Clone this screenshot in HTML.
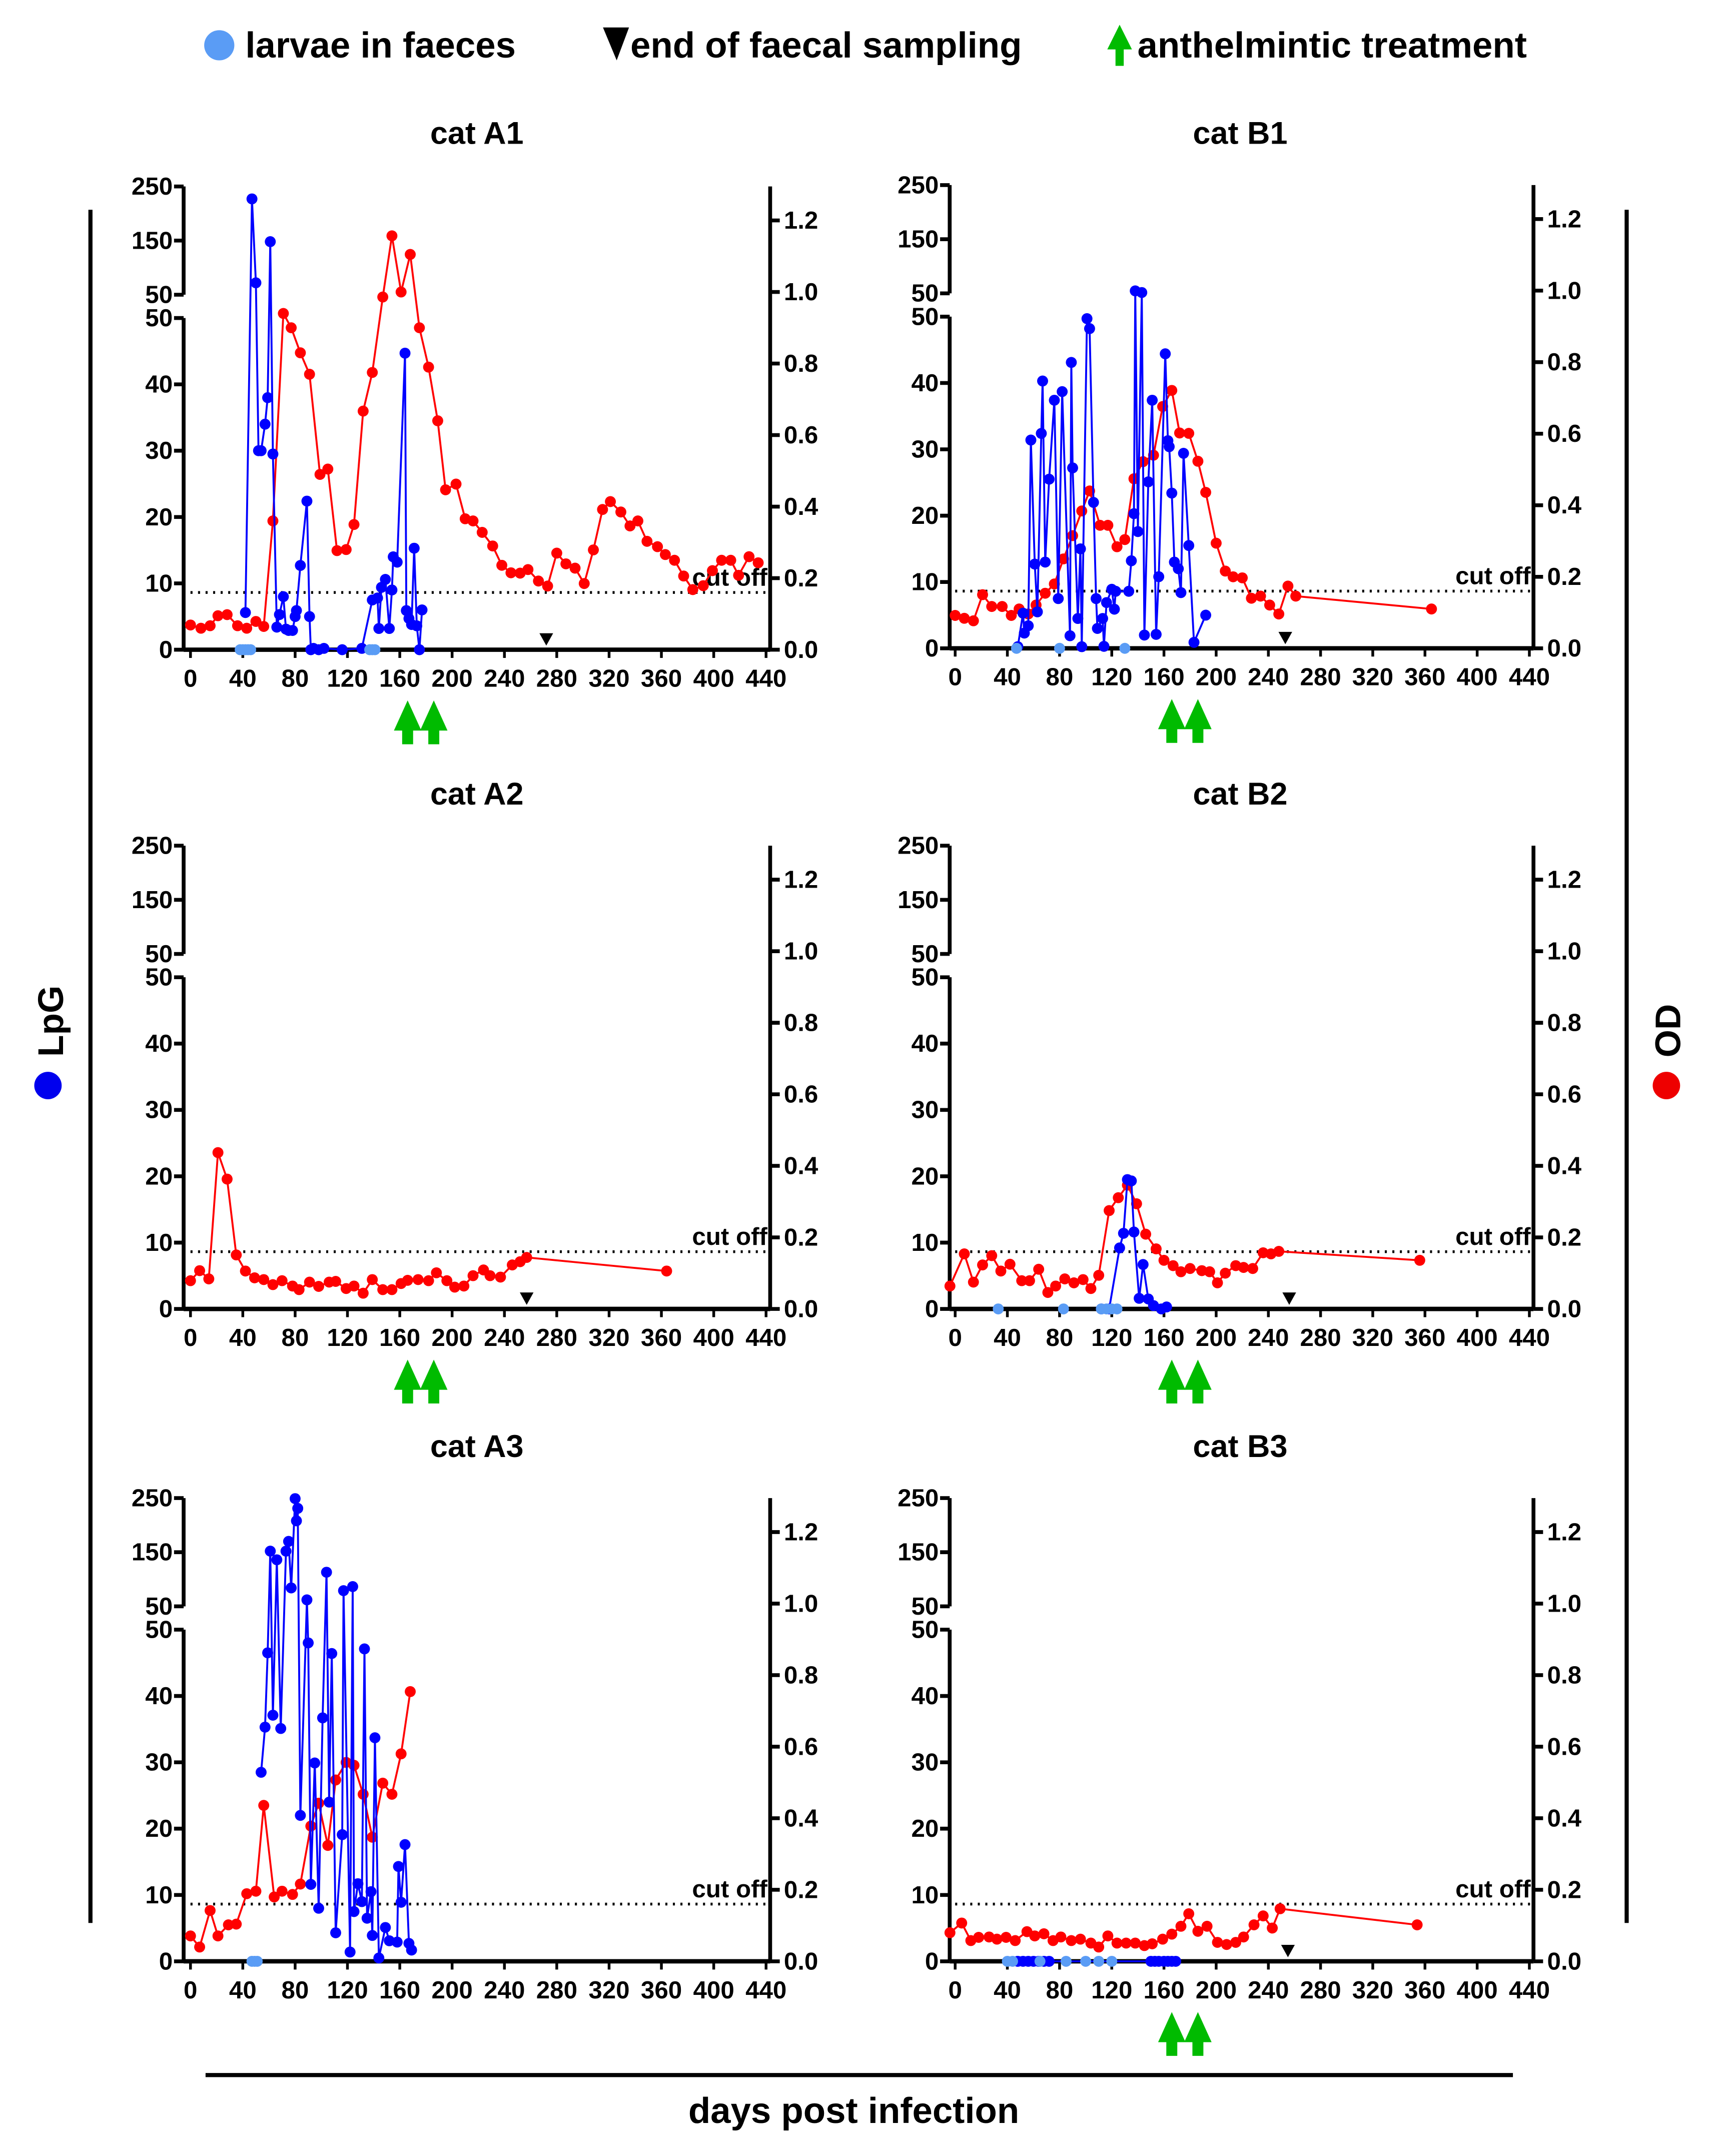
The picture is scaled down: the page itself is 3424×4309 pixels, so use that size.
<!DOCTYPE html>
<html><head><meta charset="utf-8">
<style>
html,body{margin:0;padding:0;background:#fff;}
svg{display:block;}
text{font-family:"Liberation Sans",Arial,sans-serif;font-weight:bold;fill:#000;}
</style></head>
<body>
<svg id="chart" width="3424" height="4309" viewBox="0 0 1250 1573" xmlns="http://www.w3.org/2000/svg">
  <g>
    <circle cx="160" cy="33" r="11" fill="#5a9cf5"/>
    <text x="179" y="42" font-size="26.5">larvae in faeces</text>
    <polygon points="440,20 459,20 450,44" fill="#000"/>
    <text x="460" y="42" font-size="26.5">end of faecal sampling</text>
    <polygon points="817,18 808,36 814,36 814,48 820,48 820,36 826,36" fill="#0b0"/>
    <text x="830" y="42" font-size="26.5">anthelmintic treatment</text>
  </g>
  <line x1="66" y1="153" x2="66" y2="1403" stroke="#000" stroke-width="3"/>
  <line x1="1187" y1="153" x2="1187" y2="1403" stroke="#000" stroke-width="3"/>
  <line x1="150" y1="1514" x2="1104" y2="1514" stroke="#000" stroke-width="3"/>
  <text transform="translate(46,745) rotate(-90)" text-anchor="middle" font-size="26">LpG</text>
  <circle cx="35" cy="792" r="10" fill="#0000ee"/>
  <text transform="translate(1226,752) rotate(-90)" text-anchor="middle" font-size="26">OD</text>
  <circle cx="1216" cy="792" r="10" fill="#ee0000"/>
  <text x="623" y="1549" text-anchor="middle" font-size="26.5">days post infection</text>
  <g id="panels"></g>
</svg>
<script>
const xTicks=[0,40,80,120,160,200,240,280,320,360,400,440];
const lpgLowTicks=[0,10,20,30,40,50];
const lpgHighTicks=[50,150,250];
const odTicks=[0.0,0.2,0.4,0.6,0.8,1.0,1.2];
const cutoffOD=0.16;
const treatmentDays=[166,186];

const A1_od=[[0,0.069],[8,0.06],[15,0.067],[21,0.095],[28,0.098],[36,0.067],[43,0.06],[50,0.079],[56,0.065],[63,0.36],[71,0.94],[77,0.9],[84,0.83],[91,0.77],[99,0.49],[105,0.505],[112,0.277],[119,0.28],[125,0.35],[132,0.667],[139,0.775],[147,0.986],[154,1.157],[161,1.0],[168,1.105],[175,0.9],[182,0.79],[189,0.64],[195,0.447],[203,0.463],[210,0.366],[216,0.36],[223,0.328],[231,0.29],[238,0.236],[245,0.215],[252,0.214],[258,0.224],[266,0.192],[273,0.178],[280,0.27],[287,0.24],[294,0.228],[301,0.185],[308,0.279],[315,0.392],[321,0.414],[329,0.385],[336,0.346],[342,0.36],[349,0.303],[357,0.288],[363,0.266],[370,0.25],[377,0.206],[384,0.168],[392,0.179],[399,0.221],[406,0.25],[413,0.25],[419,0.208],[427,0.26],[434,0.243]];
const A1_lpg=[[42,5.6],[47,227],[50,72],[52,30],[54,30],[57,34],[59,38],[61,148],[63,29.5],[66,3.4],[68,5.3],[71,8],[73,3.1],[75,2.9],[78,2.9],[80,5],[81,5.9],[84,12.7],[89,22.4],[91,5],[92,0],[94,0.2],[98,0],[102,0.2],[116,0],[131,0.2],[139,7.5],[143,7.8],[144,3.2],[146,9.4],[149,10.6],[152,3.2],[154,9],[155,14],[158,13.2],[164,44.7],[165,5.9],[167,4.7],[169,3.8],[171,15.3],[173,3.6],[175,0],[177,6]];
const A1_larvae=[38,40,42,44,46,137,139,141];
const A1_end=[272];

const B1_od=[[0,0.092],[7,0.084],[14,0.077],[21,0.15],[28,0.117],[36,0.117],[43,0.092],[49,0.11],[56,0.096],[62,0.121],[69,0.154],[76,0.18],[83,0.25],[90,0.315],[97,0.384],[103,0.44],[111,0.344],[117,0.344],[124,0.284],[130,0.304],[137,0.474],[144,0.522],[152,0.54],[159,0.676],[166,0.721],[172,0.602],[179,0.601],[186,0.523],[192,0.436],[200,0.294],[207,0.216],[213,0.2],[220,0.197],[227,0.14],[234,0.146],[241,0.121],[248,0.096],[255,0.174],[261,0.146],[365,0.11]];
const B1_lpg=[[48,0.25],[52,5.3],[53,2.3],[56,3.4],[58,31.4],[61,12.7],[63,5.5],[66,32.4],[67,40.3],[69,13],[72,25.5],[76,37.4],[79,7.5],[82,38.7],[88,1.9],[89,43.1],[90,27.2],[94,4.5],[96,15],[97,0.25],[101,49.7],[103,48.2],[106,22],[108,7.5],[109,3],[113,4.5],[114,0.3],[116,6.9],[120,8.9],[122,5.9],[123,8.6],[133,8.6],[135,13.2],[137,20.3],[138,54.6],[140,17.6],[143,51.5],[145,2],[148,25.1],[151,37.4],[154,2.1],[156,10.8],[161,44.4],[163,31.3],[164,30.4],[166,23.4],[168,13],[171,12],[173,8.4],[175,29.4],[179,15.5],[183,0.9],[192,5]];
const B1_larvae=[47,80,130];
const B1_end=[253];

const A2_od=[[0,0.079],[7,0.107],[14,0.084],[21,0.437],[28,0.363],[35,0.151],[42,0.106],[49,0.087],[56,0.082],[63,0.068],[70,0.079],[78,0.064],[83,0.054],[91,0.075],[98,0.063],[106,0.075],[111,0.077],[119,0.057],[125,0.064],[132,0.044],[139,0.082],[147,0.054],[154,0.054],[161,0.071],[166,0.08],[174,0.082],[182,0.079],[188,0.101],[196,0.079],[202,0.061],[209,0.064],[216,0.093],[224,0.109],[229,0.093],[237,0.089],[246,0.123],[252,0.132],[257,0.144],[364,0.106]];
const A2_lpg=[];
const A2_larvae=[];
const A2_end=[257];

const B2_od=[[-4,0.064],[7,0.154],[14,0.075],[21,0.123],[28,0.149],[35,0.106],[42,0.125],[51,0.079],[57,0.079],[64,0.111],[71,0.046],[77,0.064],[84,0.084],[91,0.073],[98,0.082],[104,0.057],[110,0.094],[118,0.275],[125,0.311],[132,0.346],[139,0.294],[146,0.209],[154,0.168],[160,0.136],[167,0.121],[173,0.104],[180,0.113],[189,0.107],[195,0.104],[201,0.073],[207,0.1],[215,0.121],[221,0.116],[228,0.113],[236,0.157],[242,0.154],[248,0.161],[356,0.136]];
const B2_lpg=[[112,0],[118,0],[126,9.2],[129,11.4],[132,19.5],[135,19.3],[137,11.6],[141,1.6],[144,6.7],[148,1.5],[152,0.5],[158,0],[162,0.3]];
const B2_larvae=[33,83,112,116,120,124];
const B2_end=[256];

const A3_od=[[0,0.071],[7,0.04],[15,0.142],[21,0.071],[29,0.102],[35,0.104],[43,0.189],[50,0.196],[56,0.436],[64,0.18],[70,0.196],[78,0.187],[84,0.216],[92,0.378],[98,0.442],[105,0.324],[111,0.507],[119,0.556],[125,0.548],[132,0.467],[139,0.347],[147,0.498],[154,0.467],[161,0.58],[168,0.754]];
const A3_lpg=[[54,28.5],[57,35.3],[59,46.5],[61,152],[63,37.1],[66,136],[69,35.1],[73,152],[75,170],[77,84],[80,249],[81,208],[82,231],[84,22],[89,62],[90,48],[92,11.6],[95,29.9],[98,8],[101,36.7],[104,113],[106,24],[108,46.4],[111,4.3],[116,19.1],[117,79],[122,1.4],[124,86.5],[125,7.5],[128,11.7],[131,9],[133,47.1],[135,6.5],[138,10.5],[139,3.9],[141,33.7],[144,0.5],[149,5.1],[152,3.1],[158,2.9],[159,14.3],[161,8.9],[164,17.6],[167,2.7],[169,1.7]];
const A3_larvae=[47,49,51];
const A3_end=[];

const B3_od=[[-4,0.08],[5,0.107],[12,0.058],[18,0.067],[26,0.068],[32,0.062],[39,0.067],[46,0.058],[55,0.083],[61,0.071],[68,0.077],[75,0.058],[81,0.068],[89,0.058],[96,0.062],[104,0.051],[110,0.04],[117,0.071],[124,0.051],[131,0.051],[138,0.051],[145,0.044],[151,0.049],[159,0.062],[166,0.076],[173,0.098],[179,0.133],[186,0.084],[193,0.098],[201,0.053],[208,0.047],[215,0.053],[221,0.068],[229,0.102],[236,0.127],[243,0.093],[249,0.147],[354,0.102]];
const B3_lpg=[[48,0],[52,0],[56,0],[60,0],[64,0],[68,0],[72,0],[150,0],[153,0],[156,0],[160,0],[163,0],[166,0],[169,0]];
const B3_larvae=[40,44,65,85,100,110,120];
const B3_end=[255];

const panels=[
 {id:'a1',title:'cat A1',cx:348,ty:105,x0:139,x1:559,axL:134,axR:562,y0:474,od:A1_od,lpg:A1_lpg,larvae:A1_larvae,end:A1_end,arrows:true},
 {id:'b1',title:'cat B1',cx:905,ty:105,x0:697,x1:1116,axL:693,axR:1119,y0:473,od:B1_od,lpg:B1_lpg,larvae:B1_larvae,end:B1_end,arrows:true},
 {id:'a2',title:'cat A2',cx:348,ty:587,x0:139,x1:559,axL:134,axR:562,y0:955,od:A2_od,lpg:A2_lpg,larvae:A2_larvae,end:A2_end,arrows:true},
 {id:'b2',title:'cat B2',cx:905,ty:587,x0:697,x1:1116,axL:693,axR:1119,y0:955,od:B2_od,lpg:B2_lpg,larvae:B2_larvae,end:B2_end,arrows:true},
 {id:'a3',title:'cat A3',cx:348,ty:1063,x0:139,x1:559,axL:134,axR:562,y0:1431,od:A3_od,lpg:A3_lpg,larvae:A3_larvae,end:A3_end,arrows:false},
 {id:'b3',title:'cat B3',cx:905,ty:1063,x0:697,x1:1116,axL:693,axR:1119,y0:1431,od:B3_od,lpg:B3_lpg,larvae:B3_larvae,end:B3_end,arrows:true}
];
const NS='http://www.w3.org/2000/svg';
function mk(tag,attrs,parent){const e=document.createElementNS(NS,tag);for(const k in attrs)e.setAttribute(k,attrs[k]);parent.appendChild(e);return e;}
const root=document.getElementById('panels');
panels.forEach(p=>{
  const xs=d=>p.x0+(d/440)*(p.x1-p.x0);
  const yOD=v=>p.y0-v*261;
  const yL=v=>v<=50?p.y0-v*4.84:(p.y0-259)-(v-50)*0.395;
  const g=mk('g',{},root);
  
  
  const t=mk('text',{x:p.cx,y:p.ty,'text-anchor':'middle','font-size':23},g);t.textContent=p.title;
  
  
  const ax=mk('g',{stroke:'#000','stroke-width':2.8,fill:'none'},g);
  
  
  mk('line',{x1:p.axL,y1:p.y0-338,x2:p.axL,y2:p.y0-259},ax);
  mk('line',{x1:p.axL,y1:p.y0-242,x2:p.axL,y2:p.y0},ax);
  mk('line',{x1:p.axR,y1:p.y0-338,x2:p.axR,y2:p.y0},ax);
  mk('line',{x1:p.axL,y1:p.y0,x2:p.axR,y2:p.y0,'stroke-width':3.2},ax);
  const tl=mk('g',{'font-size':18},g);
  
  
  xTicks.forEach(d=>{mk('line',{x1:xs(d),y1:p.y0,x2:xs(d),y2:p.y0+6,stroke:'#000','stroke-width':2},ax);
    const e=mk('text',{x:xs(d),y:p.y0+27,'text-anchor':'middle'},tl);e.textContent=d;});
  lpgLowTicks.forEach(v=>{const y=p.y0-v*4.84;mk('line',{x1:p.axL-7,y1:y,x2:p.axL,y2:y},ax);
    const e=mk('text',{x:p.axL-8,y:y+6,'text-anchor':'end'},tl);e.textContent=v;});
  lpgHighTicks.forEach(v=>{const y=yL(v+0.0001);mk('line',{x1:p.axL-7,y1:y,x2:p.axL,y2:y},ax);
    const e=mk('text',{x:p.axL-8,y:y+6,'text-anchor':'end'},tl);e.textContent=v;});
  odTicks.forEach(v=>{const y=yOD(v);mk('line',{x1:p.axR,y1:y,x2:p.axR+7,y2:y},ax);
    const e=mk('text',{x:p.axR+10,y:y+6},tl);e.textContent=v.toFixed(1);});
  const cy=yOD(cutoffOD);
  const cl=mk('line',{x1:p.x0,y1:cy,x2:p.axR,y2:cy,stroke:'#000','stroke-width':2,'stroke-dasharray':'1.5 4'},g);
  
  
  const ct=mk('text',{x:p.axR-2,y:cy-5,'text-anchor':'end','font-size':18,'font-weight':'normal'},g);ct.textContent='cut off';
  
  
  const rs=mk('g',{},g);
  
  
  mk('polyline',{points:p.od.map(q=>xs(q[0])+','+yOD(q[1])).join(' '),fill:'none',stroke:'#f00','stroke-width':1.4},rs);
  p.od.forEach(q=>{const c=mk('circle',{cx:xs(q[0]),cy:yOD(q[1]),r:4,fill:'#f00'},rs);
    
    });
  if(p.lpg.length){
    const bs=mk('g',{},g);
    
    
    mk('polyline',{points:p.lpg.map(q=>xs(q[0])+','+yL(q[1])).join(' '),fill:'none',stroke:'#00f','stroke-width':1.4},bs);
    p.lpg.forEach(q=>{const c=mk('circle',{cx:xs(q[0]),cy:yL(q[1]),r:4,fill:'#00f'},bs);
      
      });
  }
  p.larvae.forEach(d=>{const c=mk('circle',{cx:xs(d),cy:p.y0,r:4,fill:'#5a9cf5'},g);
    
    });
  p.end.forEach(d=>{const x=xs(d);const c=mk('polygon',{points:(x-5)+','+(p.y0-12)+' '+(x+5)+','+(p.y0-12)+' '+x+','+(p.y0-3),fill:'#000'},g);
    
    });
  if(p.arrows){treatmentDays.forEach(d=>{const x=xs(d),t=p.y0+37;
    const a=mk('polygon',{points:[x+','+t,(x-10)+','+(t+22),(x-4)+','+(t+22),(x-4)+','+(t+32),(x+4)+','+(t+32),(x+4)+','+(t+22),(x+10)+','+(t+22)].join(' '),fill:'#0b0'},g);
    
    });}
});
</script>
</body></html>
